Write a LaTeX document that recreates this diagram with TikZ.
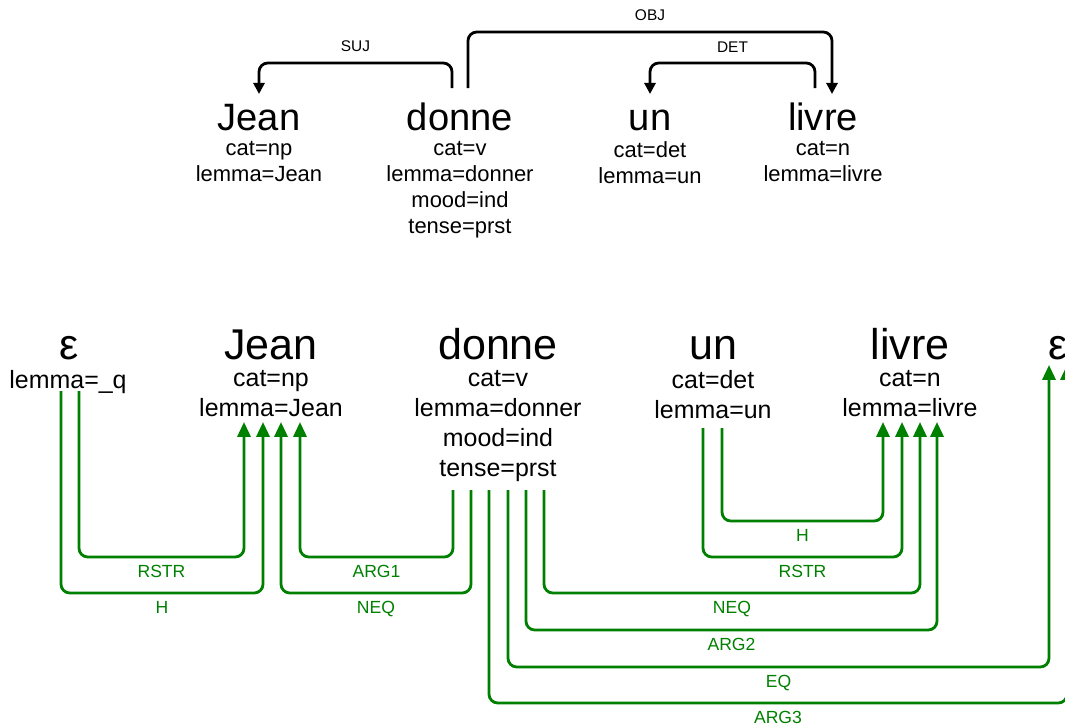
\documentclass[tikz,border=0pt]{standalone}
\usepackage{fontspec}
\setmainfont{Liberation Sans}
\usepackage{tikz}
\usetikzlibrary{
	arrows.meta,
	positioning,
	calc
}
\definecolor{vert}{RGB}{0,128,0}

\begin{document}
\begin{tikzpicture}[
			x=0.02cm, y=-0.02cm,
			mot/.style={anchor=base, inner sep=0pt, font=\fontsize{21.7}{24}\selectfont},
			traits/.style={anchor=north, inner sep=0pt, align=center, font=\fontsize{12.5}{14.8}\selectfont},
			grandmot/.style={mot, font=\fontsize{24.5}{28}\selectfont},
			grandtraits/.style={traits, font=\fontsize{14.2}{17}\selectfont},
			dep/.style={-{Triangle[length=6.3pt, width=6.3pt]}, line width=1.6pt, rounded corners=5pt},
			sem/.style={-{Triangle[length=8.5pt, width=7.5pt]}, line width=1.6pt, rounded corners=5pt, draw=vert},
			etq/.style={font=\fontsize{8.8}{10}\selectfont, inner sep=2pt, above=3.4pt},
			setq/.style={font=\fontsize{10}{12}\selectfont, inner sep=1.5pt, below=2.6pt, text=vert}
		]

		\useasboundingbox (0,0) rectangle (1065,727);
		\clip (0,0) rectangle (1065,727);

		% arbre de dependances
		\node[mot] (tJean) at (259,130) {Jean};
		\node[mot] (tdonne) at (460,130) {donne};
		\node[mot] (tun) at (650,130) {un};
		\node[mot] (tlivre) at (823,130) {livre};
		\node[traits] (tJeanT) at (259,141) {cat=np\\lemma=Jean};
		\node[traits] (tdonneT) at (460,141) {cat=v\\lemma=donner\\mood=ind\\tense=prst};
		\node[traits] (tunT) at (650,141) {cat=det\\lemma=un};
		\node[traits] (tlivreT) at (823,141) {cat=n\\lemma=livre};

		\draw[dep] ($(tdonne.base)+(-8,-42)$) -- ++(0,-25) -| node[etq, pos=0.25] {SUJ} ($(tJean.base)+(0,-36)$);
		\draw[dep] ($(tdonne.base)+(8,-42)$) -- ++(0,-56) -| node[etq, pos=0.25] {OBJ} ($(tlivre.base)+(9,-36)$);
		\draw[dep] ($(tlivre.base)+(-8,-42)$) -- ++(0,-25) -| node[etq, pos=0.25] {DET} ($(tun.base)+(0,-36)$);

		% graphe semantique
		\node[grandmot] (beps1) at (69,359) {ε};
		\node[grandmot] (bJean) at (271,359) {Jean};
		\node[grandmot] (bdonne) at (498,359) {donne};
		\node[grandmot] (bun) at (713,359) {un};
		\node[grandmot] (blivre) at (910,359) {livre};
		\node[grandmot] (beps2) at (1058,359) {ε};
		\node[grandtraits] (beps1T) at (68,370) {lemma=\_q};
		\node[grandtraits] (bJeanT) at (271,370) {cat=np\\lemma=Jean};
		\node[grandtraits] (bdonneT) at (498,370) {cat=v\\lemma=donner\\mood=ind\\tense=prst};
		\node[grandtraits] (bunT) at (713,370) {cat=det\\lemma=un};
		\node[grandtraits] (blivreT) at (910,370) {cat=n\\lemma=livre};

		\draw[sem] ($(beps1.base)+(10,32)$) -- ++(0,166) -| node[setq, pos=0.25] {RSTR} ($(bJean.base)+(-27,63)$);
		\draw[sem] ($(beps1.base)+(-8,32)$) -- ++(0,202) -| node[setq, pos=0.25] {H} ($(bJean.base)+(-8,63)$);
		\draw[sem] ($(bdonne.base)+(-45,131)$) -- ++(0,67) -| node[setq, pos=0.25] {ARG1} ($(bJean.base)+(29,63)$);
		\draw[sem] ($(bdonne.base)+(-27,131)$) -- ++(0,103) -| node[setq, pos=0.25] {NEQ} ($(bJean.base)+(10,63)$);
		\draw[sem] ($(bun.base)+(9,69)$) -- ++(0,93) -| node[setq, pos=0.25] {H} ($(blivre.base)+(-27,63)$);
		\draw[sem] ($(bun.base)+(-10,69)$) -- ++(0,129) -| node[setq, pos=0.25] {RSTR} ($(blivre.base)+(-8,63)$);
		\draw[sem] ($(bdonne.base)+(46,131)$) -- ++(0,103) -| node[setq, pos=0.25] {NEQ} ($(blivre.base)+(10,63)$);
		\draw[sem] ($(bdonne.base)+(28,131)$) -- ++(0,140) -| node[setq, pos=0.25] {ARG2} ($(blivre.base)+(27,63)$);
		\draw[sem] ($(bdonne.base)+(10,131)$) -- ++(0,177) -| node[setq, pos=0.25] {EQ} ($(beps2.base)+(-9,6)$);
		\draw[sem] ($(bdonne.base)+(-9,131)$) -- ++(0,213) -| node[setq, pos=0.25] {ARG3} ($(beps2.base)+(9,6)$);
	\end{tikzpicture}
\end{document}
